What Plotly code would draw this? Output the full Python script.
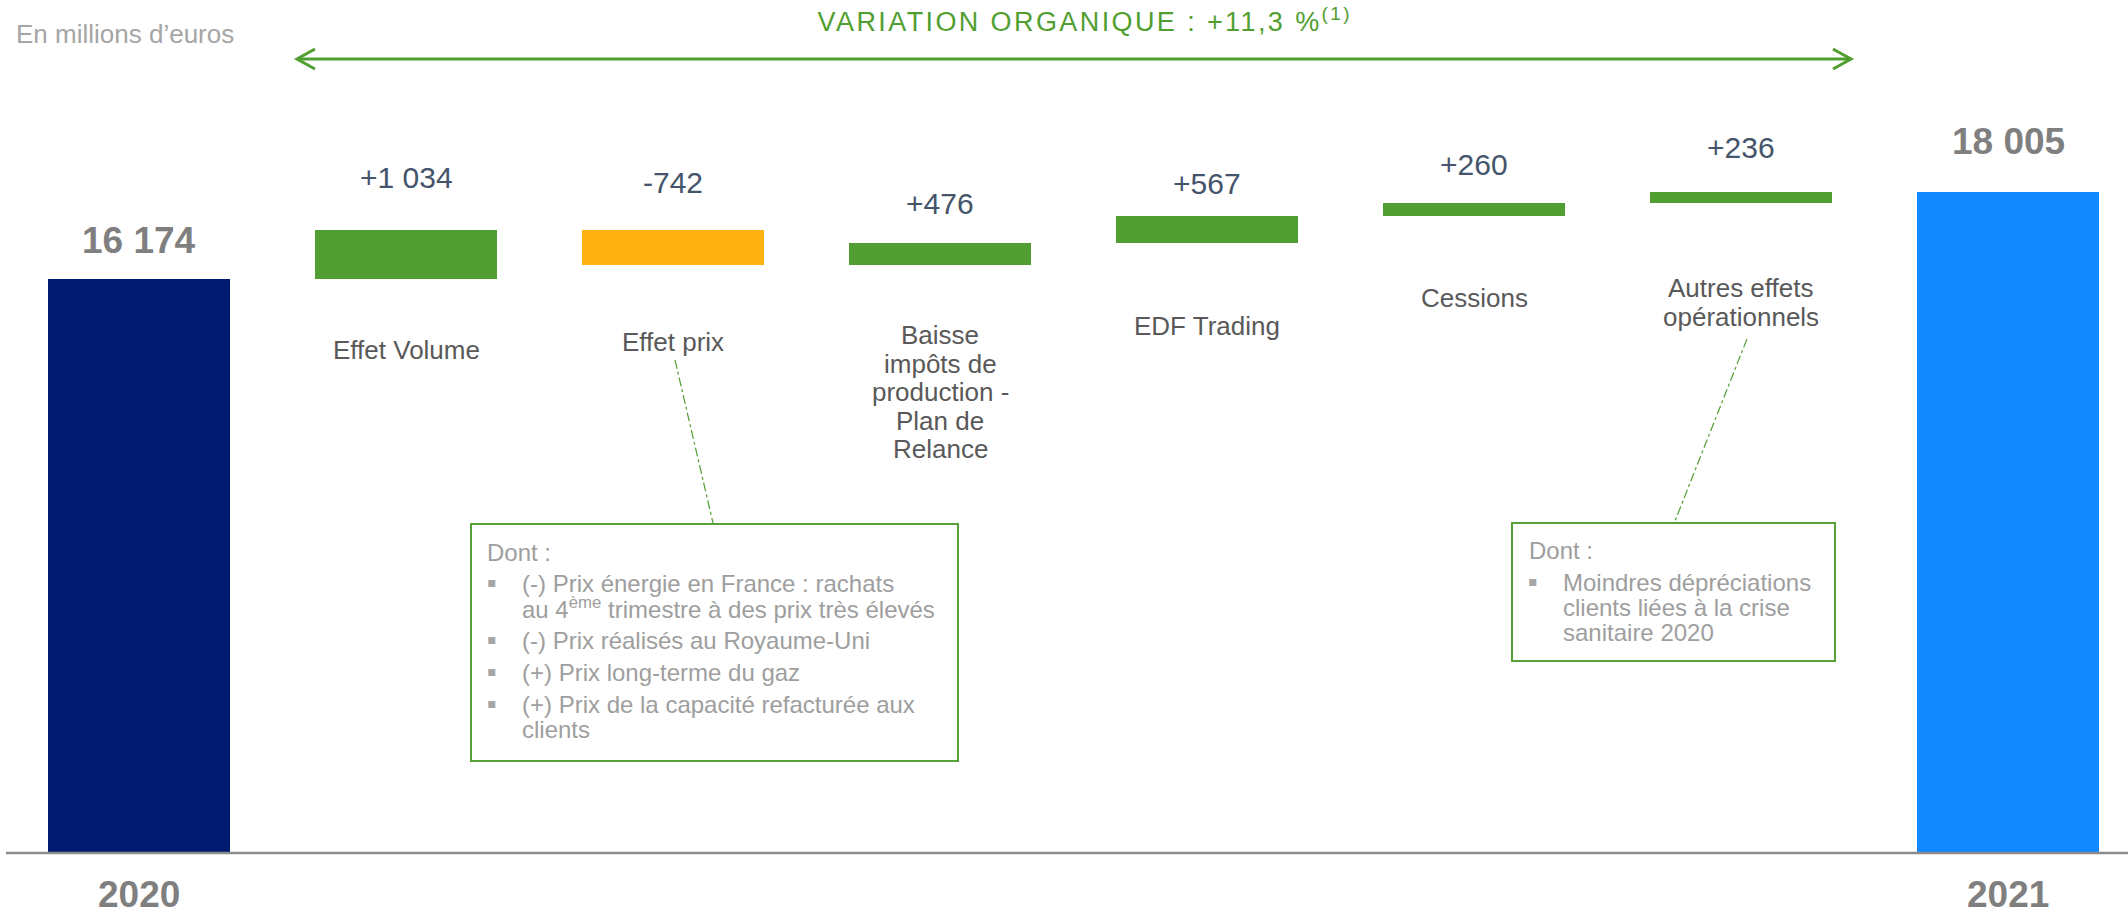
import plotly.graph_objects as go

# ---------------- data ----------------
categories = ["2020", "Effet Volume", "Effet prix",
              "Baisse impôts de production - Plan de Relance",
              "EDF Trading", "Cessions", "Autres effets opérationnels", "2021"]
category_lines = [[], ["Effet Volume"], ["Effet prix"],
                  ["Baisse", "impôts de", "production -", "Plan de", "Relance"],
                  ["EDF Trading"], ["Cessions"], ["Autres effets", "opérationnels"], []]
start_total = 16174
deltas = [1034, -742, 476, 567, 260, 236]
end_total = 18005
value_labels = ["16 174", "+1 034", "-742", "+476", "+567", "+260", "+236", "18 005"]
year_labels = ["2020", "2021"]
unit_label = "En millions d’euros"
variation_label = "VARIATION ORGANIQUE : +11,3 %<sup>(1)</sup>"
box_title = "Dont :"
box1_items = [["(-) Prix énergie en France : rachats",
               "au 4<sup>ème</sup> trimestre à des prix très élevés"],
              ["(-) Prix réalisés au Royaume-Uni"],
              ["(+) Prix long-terme du gaz"],
              ["(+) Prix de la capacité refacturée aux", "clients"]]
box2_items = [["Moindres dépréciations", "clients liées à la crise", "sanitaire 2020"]]

# ---------------- styles / layout constants ----------------
W, H = 2128, 916
M_L, M_R, M_T, M_B = 0, 0, 0, 63
PW, PH = W - M_L - M_R, H - M_T - M_B
FONT = "Liberation Sans, Arial, sans-serif"
NAVY, BLUE, GREEN, ORANGE = "#001A70", "#1089FF", "#519E31", "#FFB212"
BOX_GREEN = "#57A237"
GRAY_TOTAL = "#7F7F7F"
GRAY_CAT = "#595959"
GRAY_BOX = "#9E9E9E"
SLATE = "#44546A"

value_label_shift = [38, 52, 47, 39, 32, 39, 45, 51]
category_label_shift = [0, 71, 77, 70, 83, 82, 85, 0]
line_step = 28.5
bar_width = 0.685


def px(xp):
    return (xp - M_L) / PW


def py(yp):
    return 1 - (yp - M_T) / PH


# ---------------- bars ----------------
xs = list(range(len(categories)))
bases = [0]
heights = [start_total]
running = start_total
for d in deltas:
    bases.append(running)
    heights.append(d)
    running += d
bases.append(0)
heights.append(end_total)
colors = [NAVY] + [GREEN if d > 0 else ORANGE for d in deltas] + [BLUE]

fig = go.Figure()
fig.add_trace(go.Bar(
    x=xs, y=heights, base=bases, width=bar_width,
    marker=dict(color=colors, line=dict(width=0)),
    hoverinfo="skip", showlegend=False,
))

annotations = []

# value labels above bars
for i in xs:
    if i == 0 or i == len(xs) - 1:
        top = heights[i]
        font = dict(family=FONT, size=37, color=GRAY_TOTAL, weight="bold")
    else:
        top = max(bases[i], bases[i] + heights[i])
        font = dict(family=FONT, size=30, color=SLATE)
    annotations.append(dict(
        x=i, y=top, xref="x", yref="y", text=value_labels[i],
        showarrow=False, yanchor="middle", xanchor="center",
        yshift=value_label_shift[i], font=font))

# category labels below delta bars
for i in xs:
    lines = category_lines[i]
    if not lines:
        continue
    bottom = min(bases[i], bases[i] + heights[i])
    for k, line in enumerate(lines):
        annotations.append(dict(
            x=i, y=bottom, xref="x", yref="y", text=line,
            showarrow=False, yanchor="middle", xanchor="center",
            yshift=-(category_label_shift[i] + k * line_step),
            font=dict(family=FONT, size=26, color=GRAY_CAT)))

# year labels under axis
for i, lab in zip([0, len(xs) - 1], year_labels):
    annotations.append(dict(
        x=i, y=py(894), xref="x", yref="paper", text=lab,
        showarrow=False, yanchor="middle", xanchor="center",
        font=dict(family=FONT, size=37, color=GRAY_TOTAL, weight="bold")))

# unit label
annotations.append(dict(
    x=px(14), y=py(34), xref="paper", yref="paper", text=unit_label,
    showarrow=False, xanchor="left", yanchor="middle",
    font=dict(family=FONT, size=26, color="#A5A5A5")))

# variation title
annotations.append(dict(
    x=px(1084), y=py(20), xref="paper", yref="paper", text=variation_label,
    showarrow=False, xanchor="center", yanchor="middle",
    font=dict(family=FONT, size=27, color=GREEN)))


# boxes text
def box_text(x_title, y_title, x_bullet, x_text, items, y_first, item_gap):
    annotations.append(dict(
        x=px(x_title), y=py(y_title), xref="paper", yref="paper", text=box_title,
        showarrow=False, xanchor="left", yanchor="middle",
        font=dict(family=FONT, size=24, color=GRAY_BOX)))
    y = y_first
    for item in items:
        annotations.append(dict(
            x=px(x_bullet), y=py(y - 1), xref="paper", yref="paper", text="▪",
            showarrow=False, xanchor="center", yanchor="middle",
            font=dict(family=FONT, size=28, color="#A6A6A6")))
        for k, line in enumerate(item):
            annotations.append(dict(
                x=px(x_text), y=py(y + k * 25), xref="paper", yref="paper", text=line,
                showarrow=False, xanchor="left", yanchor="middle",
                font=dict(family=FONT, size=24, color=GRAY_BOX)))
        y += (len(item) - 1) * 25 + item_gap


box_text(485, 552, 492, 520, box1_items, 583, 32)
box_text(1527, 550, 1533, 1561, box2_items, 582, 32)


def chevron(tip_x, tip_y, dx, dy):
    return (f"M {px(tip_x + dx)} {py(tip_y - dy)} L {px(tip_x)} {py(tip_y)} "
            f"L {px(tip_x + dx)} {py(tip_y + dy)}")


arrow_y = 59
arrow_x0, arrow_x1 = 296, 1852
shapes = [
    # baseline
    dict(type="line", xref="paper", yref="paper", x0=px(6), x1=1, y0=0, y1=0,
         line=dict(color="#8C8C8C", width=2.5), layer="above"),
    # double arrow for organic variation
    dict(type="line", xref="paper", yref="paper", x0=px(arrow_x0 + 1), x1=px(arrow_x1 - 1),
         y0=py(arrow_y), y1=py(arrow_y), line=dict(color=GREEN, width=3)),
    dict(type="path", xref="paper", yref="paper", path=chevron(arrow_x0 + 1, arrow_y, 18, 10),
         line=dict(color=GREEN, width=3)),
    dict(type="path", xref="paper", yref="paper", path=chevron(arrow_x1 - 1, arrow_y, -18, 10),
         line=dict(color=GREEN, width=3)),
    # callout boxes
    dict(type="rect", xref="paper", yref="paper", x0=px(471), x1=px(958),
         y0=py(761), y1=py(524), line=dict(color=BOX_GREEN, width=2)),
    dict(type="rect", xref="paper", yref="paper", x0=px(1512), x1=px(1835),
         y0=py(661), y1=py(523), line=dict(color=BOX_GREEN, width=2)),
    # connectors
    dict(type="line", xref="paper", yref="paper", x0=px(675), y0=py(360),
         x1=px(713), y1=py(523), line=dict(color=GREEN, width=1.2, dash="dashdot")),
    dict(type="line", xref="paper", yref="paper", x0=px(1747), y0=py(339),
         x1=px(1675), y1=py(521), line=dict(color=GREEN, width=1.2, dash="dashdot")),
]

# y range: value at plot bottom / top derived from bar scale
px_per_unit = 0.0474
y_bottom = 4063
y_top = y_bottom + PH / px_per_unit

fig.update_layout(
    width=W, height=H,
    margin=dict(l=M_L, r=M_R, t=M_T, b=M_B, autoexpand=False),
    paper_bgcolor="white", plot_bgcolor="white",
    xaxis=dict(range=[-139 / 267, (W - 139) / 267], visible=False, fixedrange=True),
    yaxis=dict(range=[y_bottom, y_top], visible=False, fixedrange=True),
    annotations=annotations, shapes=shapes, showlegend=False,
    bargap=0,
)

post_js = """
document.body.style.margin = '0';
document.body.style.overflow = 'hidden';
document.querySelectorAll('.annotation-text').forEach(function (t) {
  if (t.textContent.indexOf('VARIATION') === 0) { t.style.letterSpacing = '2.4px'; }
});
"""

fig.write_html("out.html", config={"displayModeBar": False}, post_script=post_js)
